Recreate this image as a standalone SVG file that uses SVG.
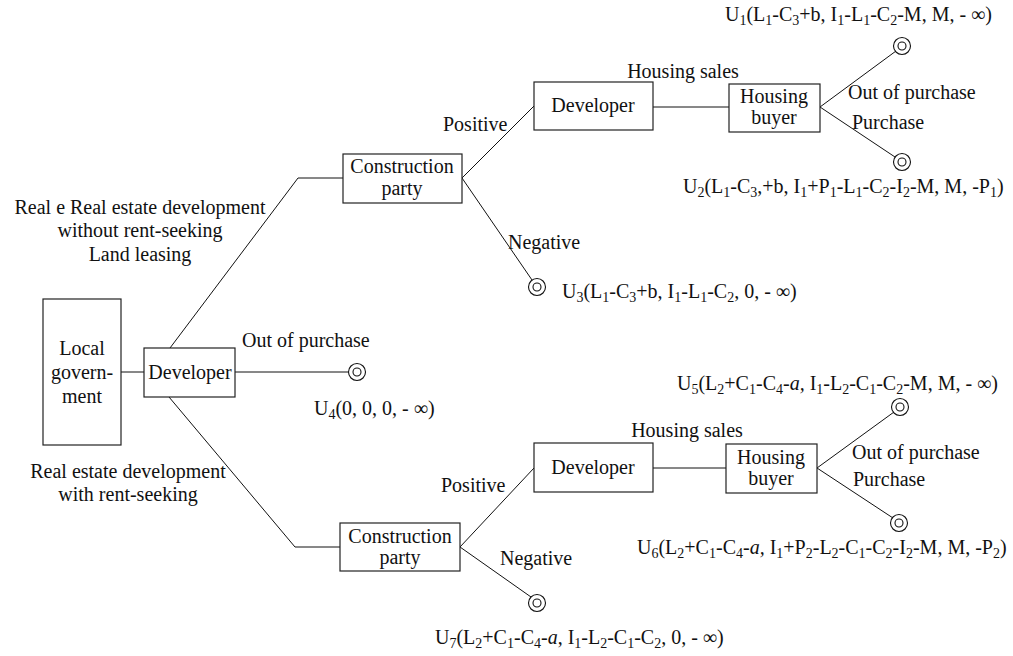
<svg xmlns="http://www.w3.org/2000/svg" width="1013" height="656" viewBox="0 0 1013 656">
  <defs>
    <style>
      text { font-family: "Liberation Serif", "Times New Roman", serif; font-size: 20px; fill: #111; }
      .c { text-anchor: middle; }
      .s { font-size: 14px; }
      .box { fill: #fff; stroke: #222; stroke-width: 1.2; }
      .ln { fill: none; stroke: #111; stroke-width: 1; }
      .term circle { fill: none; stroke: #111; stroke-width: 1.1; }
    </style>
    <g id="endpoint" class="term">
      <circle r="8.5"/>
      <circle r="4"/>
    </g>
  </defs>
  <rect width="1013" height="656" fill="#fff"/>

  <!-- connectors -->
  <g id="connectors" class="ln">
    <line x1="121" y1="372" x2="144" y2="372"/>
    <line x1="235" y1="372" x2="348" y2="372"/>
    <polyline points="170,348 298,178 343,178"/>
    <polyline points="169,397 295,547 340,547"/>
    <!-- upper branch -->
    <line x1="462" y1="178" x2="534" y2="106"/>
    <line x1="462" y1="178" x2="532" y2="280"/>
    <line x1="653" y1="107" x2="729" y2="107"/>
    <line x1="820" y1="107" x2="896" y2="51"/>
    <line x1="820" y1="107" x2="895" y2="157"/>
    <!-- lower branch -->
    <line x1="460" y1="547" x2="534" y2="468"/>
    <line x1="460" y1="547" x2="531" y2="597"/>
    <line x1="653" y1="468" x2="726" y2="468"/>
    <line x1="817" y1="468" x2="894" y2="412"/>
    <line x1="817" y1="468" x2="893" y2="518"/>
  </g>

  <!-- nodes -->
  <g id="local-government">
    <rect class="box" x="43" y="299" width="78" height="146"/>
    <text class="c" x="82" y="355">Local</text>
    <text class="c" x="82" y="379">govern-</text>
    <text class="c" x="82" y="403">ment</text>
  </g>
  <g id="developer-root">
    <rect class="box" x="144" y="348" width="91" height="49"/>
    <text class="c" x="190" y="379">Developer</text>
  </g>
  <g id="construction-upper">
    <rect class="box" x="343" y="154" width="119" height="49"/>
    <text class="c" x="402" y="173">Construction</text>
    <text class="c" x="402" y="195">party</text>
  </g>
  <g id="developer-upper">
    <rect class="box" x="534" y="82" width="119" height="48"/>
    <text class="c" x="593" y="112">Developer</text>
  </g>
  <g id="buyer-upper">
    <rect class="box" x="729" y="84" width="91" height="48"/>
    <text class="c" x="774" y="103">Housing</text>
    <text class="c" x="774" y="124">buyer</text>
  </g>
  <g id="construction-lower">
    <rect class="box" x="340" y="523" width="120" height="48"/>
    <text class="c" x="400" y="543">Construction</text>
    <text class="c" x="400" y="564">party</text>
  </g>
  <g id="developer-lower">
    <rect class="box" x="534" y="443" width="119" height="49"/>
    <text class="c" x="593" y="474">Developer</text>
  </g>
  <g id="buyer-lower">
    <rect class="box" x="726" y="444" width="91" height="49"/>
    <text class="c" x="771" y="464">Housing</text>
    <text class="c" x="771" y="485">buyer</text>
  </g>

  <!-- outcome nodes -->
  <g id="u1">
    <use href="#endpoint" x="902" y="46"/>
    <text x="725" y="21">U<tspan class="s" dy="4">1</tspan><tspan dy="-4">(L</tspan><tspan class="s" dy="4">1</tspan><tspan dy="-4">-C</tspan><tspan class="s" dy="4">3</tspan><tspan dy="-4">+b, I</tspan><tspan class="s" dy="4">1</tspan><tspan dy="-4">-L</tspan><tspan class="s" dy="4">1</tspan><tspan dy="-4">-C</tspan><tspan class="s" dy="4">2</tspan><tspan dy="-4">-M, M, - ∞)</tspan></text>
  </g>
  <g id="u2">
    <use href="#endpoint" x="902" y="162"/>
    <text x="683" y="193">U<tspan class="s" dy="4">2</tspan><tspan dy="-4">(L</tspan><tspan class="s" dy="4">1</tspan><tspan dy="-4">-C</tspan><tspan class="s" dy="4">3</tspan><tspan dy="-4">,+b, I</tspan><tspan class="s" dy="4">1</tspan><tspan dy="-4">+P</tspan><tspan class="s" dy="4">1</tspan><tspan dy="-4">-L</tspan><tspan class="s" dy="4">1</tspan><tspan dy="-4">-C</tspan><tspan class="s" dy="4">2</tspan><tspan dy="-4">-I</tspan><tspan class="s" dy="4">2</tspan><tspan dy="-4">-M, M, -P</tspan><tspan class="s" dy="4">1</tspan><tspan dy="-4">)</tspan></text>
  </g>
  <g id="u3">
    <use href="#endpoint" x="537" y="287"/>
    <text x="562" y="298">U<tspan class="s" dy="4">3</tspan><tspan dy="-4">(L</tspan><tspan class="s" dy="4">1</tspan><tspan dy="-4">-C</tspan><tspan class="s" dy="4">3</tspan><tspan dy="-4">+b, I</tspan><tspan class="s" dy="4">1</tspan><tspan dy="-4">-L</tspan><tspan class="s" dy="4">1</tspan><tspan dy="-4">-C</tspan><tspan class="s" dy="4">2</tspan><tspan dy="-4">, 0, - ∞)</tspan></text>
  </g>
  <g id="u4">
    <use href="#endpoint" x="357" y="372"/>
    <text x="314" y="415">U<tspan class="s" dy="4">4</tspan><tspan dy="-4">(0, 0, 0, - ∞)</tspan></text>
  </g>
  <g id="u5">
    <use href="#endpoint" x="900" y="407"/>
    <text x="677" y="390">U<tspan class="s" dy="4">5</tspan><tspan dy="-4">(L</tspan><tspan class="s" dy="4">2</tspan><tspan dy="-4">+C</tspan><tspan class="s" dy="4">1</tspan><tspan dy="-4">-C</tspan><tspan class="s" dy="4">4</tspan><tspan dy="-4">-</tspan><tspan font-style="italic">a,</tspan><tspan> I</tspan><tspan class="s" dy="4">1</tspan><tspan dy="-4">-L</tspan><tspan class="s" dy="4">2</tspan><tspan dy="-4">-C</tspan><tspan class="s" dy="4">1</tspan><tspan dy="-4">-C</tspan><tspan class="s" dy="4">2</tspan><tspan dy="-4">-M, M, - ∞)</tspan></text>
  </g>
  <g id="u6">
    <use href="#endpoint" x="899" y="523"/>
    <text x="637" y="554">U<tspan class="s" dy="4">6</tspan><tspan dy="-4">(L</tspan><tspan class="s" dy="4">2</tspan><tspan dy="-4">+C</tspan><tspan class="s" dy="4">1</tspan><tspan dy="-4">-C</tspan><tspan class="s" dy="4">4</tspan><tspan dy="-4">-</tspan><tspan font-style="italic">a,</tspan><tspan> I</tspan><tspan class="s" dy="4">1</tspan><tspan dy="-4">+P</tspan><tspan class="s" dy="4">2</tspan><tspan dy="-4">-L</tspan><tspan class="s" dy="4">2</tspan><tspan dy="-4">-C</tspan><tspan class="s" dy="4">1</tspan><tspan dy="-4">-C</tspan><tspan class="s" dy="4">2</tspan><tspan dy="-4">-I</tspan><tspan class="s" dy="4">2</tspan><tspan dy="-4">-M, M, -P</tspan><tspan class="s" dy="4">2</tspan><tspan dy="-4">)</tspan></text>
  </g>
  <g id="u7">
    <use href="#endpoint" x="537" y="603"/>
    <text x="435" y="644">U<tspan class="s" dy="4">7</tspan><tspan dy="-4">(L</tspan><tspan class="s" dy="4">2</tspan><tspan dy="-4">+C</tspan><tspan class="s" dy="4">1</tspan><tspan dy="-4">-C</tspan><tspan class="s" dy="4">4</tspan><tspan dy="-4">-</tspan><tspan font-style="italic">a</tspan><tspan>, I</tspan><tspan class="s" dy="4">1</tspan><tspan dy="-4">-L</tspan><tspan class="s" dy="4">2</tspan><tspan dy="-4">-C</tspan><tspan class="s" dy="4">1</tspan><tspan dy="-4">-C</tspan><tspan class="s" dy="4">2</tspan><tspan dy="-4">, 0, - ∞)</tspan></text>
  </g>

  <!-- edge labels -->
  <g id="labels">
    <text class="c" x="140" y="214">Real e Real estate development</text>
    <text class="c" x="140" y="237">without rent-seeking</text>
    <text class="c" x="140" y="261">Land leasing</text>
    <text x="242" y="347">Out of purchase</text>
    <text class="c" x="128" y="478">Real estate development</text>
    <text class="c" x="128" y="501">with rent-seeking</text>
    <text x="443" y="131">Positive</text>
    <text x="508" y="249">Negative</text>
    <text class="c" x="683" y="78">Housing sales</text>
    <text x="848" y="99">Out of purchase</text>
    <text x="852" y="129">Purchase</text>
    <text x="441" y="492">Positive</text>
    <text x="500" y="565">Negative</text>
    <text class="c" x="687" y="437">Housing sales</text>
    <text x="852" y="459">Out of purchase</text>
    <text x="853" y="486">Purchase</text>
  </g>
</svg>
